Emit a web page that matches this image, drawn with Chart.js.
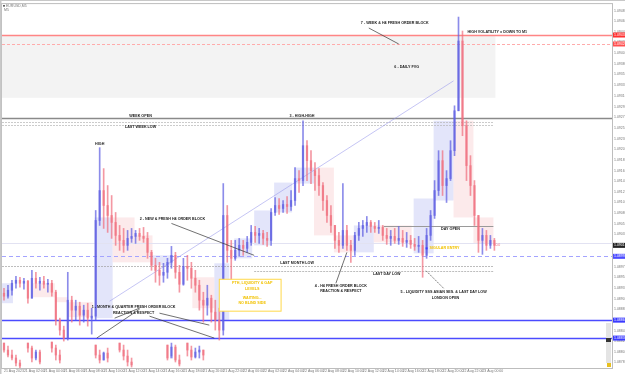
<!DOCTYPE html>
<html>
<head>
<meta charset="utf-8">
<script src="https://cdn.jsdelivr.net/npm/chart.js@4.4.0/dist/chart.umd.min.js"></script>
<style>
  html, body { margin: 0; padding: 0; background: #fff; }
</style>
</head>
<body>
<canvas id="chart" width="625" height="374"></canvas>
<script>
// --- data (EURUSD, M5) ---
const symbolName = 'EURUSD,M5';
const timeframe = 'M5';

const timeLabels = [
  '21 Aug 2023', '21 Aug 02:00', '21 Aug 04:00', '21 Aug 06:00', '21 Aug 08:00',
  '21 Aug 10:00', '21 Aug 12:00', '21 Aug 14:00', '21 Aug 16:00', '21 Aug 18:00',
  '21 Aug 20:00', '21 Aug 22:00', '22 Aug 00:00', '22 Aug 02:00', '22 Aug 04:00',
  '22 Aug 06:00', '22 Aug 08:00', '22 Aug 10:00', '22 Aug 12:00', '22 Aug 14:00',
  '22 Aug 16:00', '22 Aug 18:00', '22 Aug 20:00', '22 Aug 22:00', '23 Aug 00:00'
];

const priceTicks = [
  1.09487, 1.09466, 1.09444, 1.09423, 1.09401, 1.09380, 1.09359, 1.09337, 1.09316, 1.09294,
  1.09273, 1.09252, 1.09230, 1.09209, 1.09187, 1.09166, 1.09145, 1.09123, 1.09102, 1.09080,
  1.09059, 1.09038, 1.09016, 1.08995, 1.08973, 1.08952, 1.08931, 1.08909, 1.08888, 1.08866,
  1.08845, 1.08824, 1.08802, 1.08781
];

const firstOpen = 1.08920;
const highs = [
  1.08930, 1.08936, 1.08946, 1.08954, 1.08952, 1.08950, 1.08946, 1.08966, 1.08962, 1.08952,
  1.08954, 1.08948, 1.08946, 1.08926, 1.08870, 1.08854, 1.08962, 1.08914, 1.08906, 1.08902,
  1.08896, 1.08900, 1.08890, 1.09086, 1.09212, 1.09170, 1.09136, 1.09116, 1.09082, 1.09056,
  1.09050, 1.09046, 1.09050, 1.09046, 1.09050, 1.09052, 1.09042, 1.09006, 1.08990, 1.08982,
  1.08980, 1.08990, 1.09014, 1.09002, 1.08976, 1.08990, 1.08996, 1.08982, 1.08966, 1.08946,
  1.08922, 1.08936, 1.08916, 1.08906, 1.08890, 1.09140, 1.09096, 1.09026, 1.09026, 1.09030,
  1.09026, 1.09034, 1.09056, 1.09054, 1.09050, 1.09046, 1.09042, 1.09090, 1.09112, 1.09110,
  1.09106, 1.09114, 1.09126, 1.09172, 1.09166, 1.09266, 1.09226, 1.09206, 1.09182, 1.09170,
  1.09142, 1.09116, 1.09096, 1.09056, 1.09042, 1.09140, 1.09056, 1.09026, 1.09042, 1.09062,
  1.09066, 1.09074, 1.09066, 1.09062, 1.09066, 1.09056, 1.09050, 1.09046, 1.09050, 1.09054,
  1.09046, 1.09042, 1.09036, 1.09030, 1.09034, 1.09026, 1.09050, 1.09086, 1.09146, 1.09206,
  1.09206, 1.09166, 1.09226, 1.09296, 1.09474, 1.09446, 1.09266, 1.09196, 1.09146, 1.09076,
  1.09050, 1.09046, 1.09036, 1.09030
];
const lows = [
  1.08906, 1.08910, 1.08916, 1.08930, 1.08932, 1.08928, 1.08900, 1.08910, 1.08930, 1.08926,
  1.08930, 1.08922, 1.08914, 1.08856, 1.08836, 1.08824, 1.08826, 1.08862, 1.08866, 1.08856,
  1.08862, 1.08854, 1.08838, 1.08866, 1.09056, 1.09050, 1.09042, 1.09030, 1.09016, 1.09006,
  1.09002, 1.09006, 1.09022, 1.09020, 1.09026, 1.09022, 1.08990, 1.08966, 1.08942, 1.08936,
  1.08942, 1.08950, 1.08970, 1.08950, 1.08922, 1.08936, 1.08946, 1.08930, 1.08922, 1.08886,
  1.08862, 1.08876, 1.08862, 1.08846, 1.08826, 1.08836, 1.08982, 1.08946, 1.08986, 1.08994,
  1.08996, 1.09002, 1.09016, 1.09022, 1.09020, 1.09018, 1.09014, 1.09016, 1.09076, 1.09078,
  1.09082, 1.09080, 1.09086, 1.09096, 1.09122, 1.09136, 1.09146, 1.09140, 1.09126, 1.09116,
  1.09086, 1.09062, 1.09042, 1.09010, 1.09002, 1.09010, 1.09006, 1.08982, 1.08996, 1.09026,
  1.09034, 1.09042, 1.09042, 1.09042, 1.09040, 1.09026, 1.09018, 1.09016, 1.09020, 1.09018,
  1.09014, 1.09012, 1.09010, 1.09006, 1.09002, 1.08952, 1.08990, 1.09026, 1.09070, 1.09116,
  1.09116, 1.09102, 1.09146, 1.09196, 1.09286, 1.09236, 1.09146, 1.09116, 1.09056, 1.09002,
  1.08998, 1.09006, 1.09010, 1.09006
];
const closes = [
  1.08914, 1.08926, 1.08940, 1.08946, 1.08940, 1.08944, 1.08910, 1.08950, 1.08940, 1.08944,
  1.08938, 1.08940, 1.08922, 1.08866, 1.08846, 1.08830, 1.08906, 1.08886, 1.08894, 1.08876,
  1.08886, 1.08870, 1.08874, 1.09066, 1.09126, 1.09096, 1.09076, 1.09062, 1.09036, 1.09026,
  1.09016, 1.09030, 1.09034, 1.09040, 1.09034, 1.09030, 1.09002, 1.08976, 1.08966, 1.08956,
  1.08962, 1.08982, 1.08996, 1.08962, 1.08938, 1.08974, 1.08970, 1.08950, 1.08936, 1.08906,
  1.08896, 1.08910, 1.08882, 1.08866, 1.08846, 1.09076, 1.09006, 1.08990, 1.09006, 1.09016,
  1.09010, 1.09022, 1.09042, 1.09036, 1.09040, 1.09030, 1.09026, 1.09082, 1.09096, 1.09090,
  1.09098, 1.09094, 1.09106, 1.09150, 1.09146, 1.09216, 1.09186, 1.09166, 1.09156, 1.09136,
  1.09106, 1.09076, 1.09056, 1.09026, 1.09016, 1.09046, 1.09016, 1.09006, 1.09036, 1.09050,
  1.09056, 1.09062, 1.09054, 1.09050, 1.09052, 1.09036, 1.09030, 1.09034, 1.09026, 1.09030,
  1.09022, 1.09026, 1.09018, 1.09014, 1.09016, 1.08996, 1.09036, 1.09076, 1.09126, 1.09186,
  1.09136, 1.09150, 1.09206, 1.09286, 1.09426, 1.09256, 1.09176, 1.09136, 1.09076, 1.09026,
  1.09036, 1.09016, 1.09026, 1.09016
];

// small candle fragments in the strip under the lowest blue line
const subIndex = [0, 1, 2, 3, 4, 6, 7, 8, 9, 12, 13, 14, 23, 24, 25, 26, 29, 30, 31, 32, 41, 42, 43, 44, 46, 47, 48, 49, 50];
const subHighs = [
  1.08820, 1.08814, 1.08806, 1.08796, 1.08786, 1.08820, 1.08814, 1.08806, 1.08806, 1.08822,
  1.08816, 1.08806, 1.08816, 1.08806, 1.08802, 1.08810, 1.08820, 1.08816, 1.08806, 1.08790,
  1.08816, 1.08820, 1.08816, 1.08796, 1.08820, 1.08814, 1.08810, 1.08814, 1.08806
];
const subLows = [
  1.08802, 1.08792, 1.08786, 1.08774, 1.08770, 1.08802, 1.08782, 1.08786, 1.08778, 1.08802,
  1.08786, 1.08780, 1.08790, 1.08780, 1.08786, 1.08782, 1.08802, 1.08786, 1.08774, 1.08772,
  1.08786, 1.08794, 1.08782, 1.08774, 1.08794, 1.08786, 1.08790, 1.08790, 1.08786
];
const subCloses = [
  1.08806, 1.08796, 1.08790, 1.08780, 1.08774, 1.08810, 1.08790, 1.08802, 1.08782, 1.08810,
  1.08796, 1.08786, 1.08796, 1.08786, 1.08800, 1.08790, 1.08806, 1.08794, 1.08782, 1.08776,
  1.08790, 1.08812, 1.08786, 1.08778, 1.08806, 1.08792, 1.08802, 1.08806, 1.08796
];

// --- drawn objects (index range, price range) ---
const fvgZone = [-1, 123.25, 1.09436, 1.09312];
const demandZones = [
  [-1, 2.25, 1.08940, 1.08900], [22.75, 27.25, 1.09072, 1.08870], [37.25, 42.25, 1.08996, 1.08976],
  [52.75, 56.5, 1.08980, 1.08866], [57.75, 62.25, 1.09030, 1.08990], [62.75, 67, 1.09086, 1.09016],
  [67.75, 72.25, 1.09142, 1.09082], [72.75, 77.75, 1.09172, 1.09140], [87.75, 92.75, 1.09056, 1.09002],
  [102.75, 107.75, 1.09110, 1.09000], [107.75, 112.75, 1.09266, 1.09106]
];
const supplyZones = [
  [7.25, 12.75, 1.08940, 1.08912], [12.75, 16, 1.08912, 1.08902], [16, 22.25, 1.08902, 1.08872],
  [27.25, 32.75, 1.09072, 1.08982], [32.75, 37.25, 1.09036, 1.08982], [47.25, 52.75, 1.08952, 1.08890],
  [77.75, 82.75, 1.09172, 1.09036], [82.75, 87.75, 1.09036, 1.09002], [92.75, 102.25, 1.09056, 1.09022],
  [112.75, 117.75, 1.09266, 1.09072], [117.75, 122.75, 1.09072, 1.09020]
];

const END = 152.5;
const levels = [
  { p: 1.09438, from: -0.5, to: END, color: '#ff8585', width: 1.5, dash: [] },
  { p: 1.09420, from: -0.5, to: END, color: '#ffabab', width: 1, dash: [3, 2] },
  { p: 1.09272, from: -0.5, to: END, color: '#8a8a8a', width: 1.3, dash: [] },
  { p: 1.09264, from: -0.5, to: 122.75, color: '#b4b4b4', width: 0.7, dash: [2, 1] },
  { p: 1.09258, from: -0.5, to: 122.75, color: '#b4b4b4', width: 0.7, dash: [2, 1] },
  { p: 1.09020, from: -0.5, to: END, color: '#e2e2f2', width: 1, dash: [] },
  { p: 1.08994, from: -0.5, to: END, color: '#a4a4ff', width: 1, dash: [4, 3] },
  { p: 1.08974, from: -0.5, to: 122.75, color: '#a0a0a0', width: 0.7, dash: [2, 1] },
  { p: 1.08964, from: 62.75, to: 122.75, color: '#a0a0a0', width: 0.7, dash: [2, 1] },
  { p: 1.09054, from: 95.25, to: 122.75, color: '#9a9a9a', width: 1, dash: [] },
  { p: 1.08866, from: -0.5, to: END, color: '#4b4bff', width: 1.5, dash: [] },
  { p: 1.08830, from: -0.5, to: END, color: '#4b4bff', width: 1.5, dash: [] }
];
const trendLine = [26.5, 1.08904, 112.75, 1.09346];
const leaders = [
  [42, 1.09060, 62.75, 1.08996, []],
  [34, 1.08888, 23.25, 1.08830, []],
  [34, 1.08890, 27.75, 1.08870, []],
  [39, 1.08880, 51.5, 1.08856, []],
  [36.5, 1.08874, 52.75, 1.08830, []],
  [83.25, 1.08940, 86, 1.09002, []],
  [110.25, 1.08930, 105.75, 1.08966, [1.5, 1]],
  [91.5, 1.09452, 99, 1.09420, []]
];
const notes = [
  ['HIGH', 24, 1.09220], ['WEEK OPEN', 34.25, 1.09276], ['LAST WEEK LOW', 34.25, 1.09254],
  ['3 - HIGH-HIGH', 74.75, 1.09276], ['2 - NEW & FRESH H4 ORDER BLOCK', 42.25, 1.09068],
  ['1 - MONTH & QUARTER FRESH ORDER BLOCK', 32.5, 1.08892], ['REACTION & RESPECT', 32.5, 1.08880],
  ['4 - H4 FRESH ORDER BLOCK', 84.5, 1.08934], ['REACTION & RESPECT', 84.5, 1.08924],
  ['LAST MONTH LOW', 73.5, 1.08980], ['LAST DAY LOW', 96, 1.08958],
  ['5 - LIQUIDITY SSS ASIAN SES. & LAST DAY LOW', 110.25, 1.08922], ['LONDON OPEN', 110.75, 1.08910],
  ['DAY OPEN', 112, 1.09048], ['6 - DAILY FVG', 101, 1.09374],
  ['7 - WEEK & H4 FRESH ORDER BLOCK', 98, 1.09462], ['HIGH VOLATILITY = DOWN TO M1', 123.75, 1.09444]
];
const yellowNotes = [
  ['PTH, LIQUIDITY & GAP', 62.25, 1.08940], ['LEVELS', 62.25, 1.08928],
  ['WAITING...', 62.25, 1.08910], ['NO BLIND SIDE', 62.25, 1.08900],
  ['SIGULAR ENTRY', 110.5, 1.09010]
];
const noteBox = [54, 69.5, 1.08948, 1.08884];
const axisTags = [
  [1.09438, '#ff3030'], [1.09420, '#ff5050'], [1.09016, '#222222'],
  [1.08994, '#4b4bff'], [1.08866, '#3a3aff'], [1.08830, '#3a3aff']
];

const BULL = 'rgba(96, 96, 226, 0.72)';
const BEAR = 'rgba(240, 112, 128, 0.72)';

function candleSets(idx, hi, lo, cl, first) {
  const wicks = [], bodies = [], colors = [];
  idx.forEach((x, k) => {
    let o;
    if (k === 0) o = first !== undefined ? first : hi[k];
    else o = (idx[k - 1] === x - 1) ? cl[k - 1] : hi[k];
    wicks.push({ x: x, y: [lo[k], hi[k]] });
    bodies.push({ x: x, y: [o, cl[k]] });
    colors.push(cl[k] >= o ? BULL : BEAR);
  });
  return { wicks, bodies, colors };
}

const main = candleSets(closes.map((_, i) => i), highs, lows, closes, firstOpen);
const sub = candleSets(subIndex, subHighs, subLows, subCloses);

const NOTE_FONT = 'bold 3.7px "Liberation Sans", Arial, sans-serif';
const AXIS_FONT = { size: 3.5, family: '"Liberation Sans", Arial, sans-serif' };

const overlay = {
  id: 'overlay',
  beforeDatasetsDraw(chart) {
    const { ctx, chartArea: a, scales: { x, y } } = chart;
    ctx.save();
    ctx.beginPath();
    ctx.rect(a.left, a.top, a.right - a.left, a.bottom - a.top);
    ctx.clip();
    const box = (z, fill) => {
      const x0 = x.getPixelForValue(z[0]), x1 = x.getPixelForValue(z[1]);
      const y0 = y.getPixelForValue(z[2]), y1 = y.getPixelForValue(z[3]);
      ctx.fillStyle = fill;
      ctx.fillRect(x0, y0, x1 - x0, y1 - y0);
    };
    box(fvgZone, '#f3f3f3');
    demandZones.forEach(z => box(z, 'rgba(208, 212, 246, 0.6)'));
    supplyZones.forEach(z => box(z, 'rgba(250, 216, 218, 0.55)'));

    levels.forEach(l => {
      const py = Math.round(y.getPixelForValue(l.p)) + 0.5;
      ctx.strokeStyle = l.color;
      ctx.lineWidth = l.width;
      ctx.setLineDash(l.dash);
      ctx.beginPath();
      ctx.moveTo(x.getPixelForValue(l.from), py);
      ctx.lineTo(x.getPixelForValue(l.to), py);
      ctx.stroke();
    });
    ctx.setLineDash([]);
    ctx.strokeStyle = 'rgba(150, 150, 235, 0.7)';
    ctx.lineWidth = 0.8;
    ctx.beginPath();
    ctx.moveTo(x.getPixelForValue(trendLine[0]), y.getPixelForValue(trendLine[1]));
    ctx.lineTo(x.getPixelForValue(trendLine[2]), y.getPixelForValue(trendLine[3]));
    ctx.stroke();
    ctx.restore();
  },
  afterDatasetsDraw(chart) {
    const { ctx, scales: { x, y } } = chart;
    ctx.save();
    ctx.strokeStyle = '#333';
    ctx.lineWidth = 0.7;
    leaders.forEach(l => {
      ctx.setLineDash(l[4]);
      ctx.beginPath();
      ctx.moveTo(x.getPixelForValue(l[0]), y.getPixelForValue(l[1]));
      ctx.lineTo(x.getPixelForValue(l[2]), y.getPixelForValue(l[3]));
      ctx.stroke();
    });
    ctx.setLineDash([]);

    // yellow note box
    const bx0 = x.getPixelForValue(noteBox[0]), bx1 = x.getPixelForValue(noteBox[1]);
    const by0 = y.getPixelForValue(noteBox[2]), by1 = y.getPixelForValue(noteBox[3]);
    ctx.fillStyle = '#fff';
    ctx.fillRect(bx0, by0, bx1 - bx0, by1 - by0);
    ctx.strokeStyle = '#ffd84a';
    ctx.lineWidth = 1;
    ctx.strokeRect(bx0, by0, bx1 - bx0, by1 - by0);

    ctx.font = NOTE_FONT;
    ctx.textAlign = 'center';
    ctx.textBaseline = 'middle';
    ctx.fillStyle = '#1a1a1a';
    notes.forEach(n => ctx.fillText(n[0], x.getPixelForValue(n[1]), y.getPixelForValue(n[2])));
    ctx.fillStyle = '#f2c200';
    yellowNotes.forEach(n => ctx.fillText(n[0], x.getPixelForValue(n[1]), y.getPixelForValue(n[2])));

    // entry marker and spread text
    ctx.fillStyle = '#3b3bff';
    ctx.fillRect(x.getPixelForValue(106) - 1, y.getPixelForValue(1.09010) - 1, 2, 2);
    ctx.fillStyle = '#f07080';
    ctx.font = '3.5px "Liberation Sans", Arial, sans-serif';
    ctx.textAlign = 'left';
    ctx.fillText('0.0', x.getPixelForValue(123.25), y.getPixelForValue(1.09016));
    ctx.restore();
  },
  afterDraw(chart) {
    const { ctx, chartArea: a, scales: { y } } = chart;
    ctx.save();
    ctx.strokeStyle = '#bdbdbd';
    ctx.lineWidth = 1;
    ctx.strokeRect(a.left - 0.5, a.top - 0.5, a.right - a.left + 1, a.bottom - a.top + 1);
    ctx.fillStyle = '#c8c8c8';
    ctx.fillRect(0, 0, 625, 1);
    ctx.fillRect(0, 0, 1.5, 374);
    ctx.font = '3.5px "Liberation Sans", Arial, sans-serif';
    ctx.textBaseline = 'middle';
    ctx.textAlign = 'left';
    axisTags.forEach(t => {
      const py = y.getPixelForValue(t[0]);
      ctx.fillStyle = t[1];
      ctx.fillRect(a.right + 1, py - 2.5, 12, 5);
      ctx.fillStyle = '#fff';
      ctx.fillText(t[0].toFixed(5), a.right + 2, py);
    });
    // symbol caption
    ctx.fillStyle = '#555';
    ctx.fillRect(a.left + 1, a.top + 1, 2, 1.5);
    ctx.fillStyle = '#777';
    ctx.fillText(symbolName, a.left + 4, a.top + 2);
    ctx.fillText(timeframe, a.left + 2, a.top + 6);
    // small toolbar at lower right
    ctx.fillStyle = '#e4e4e4';
    ctx.fillRect(a.right - 6, a.bottom - 45, 5, 40);
    ctx.fillStyle = '#333';
    ctx.fillRect(a.right - 6, a.bottom - 30, 5, 4);
    ctx.fillStyle = '#e8c020';
    ctx.fillRect(a.right - 5, a.bottom - 5, 4, 4);
    ctx.restore();
  }
};

new Chart(document.getElementById('chart'), {
  type: 'bar',
  data: {
    datasets: [
      { data: main.wicks, backgroundColor: main.colors, barThickness: 1, grouped: false, order: 2 },
      { data: main.bodies, backgroundColor: main.colors, barThickness: 1.6, grouped: false, order: 1 },
      { data: sub.wicks, backgroundColor: sub.colors, barThickness: 1, grouped: false, order: 4 },
      { data: sub.bodies, backgroundColor: sub.colors, barThickness: 1.6, grouped: false, order: 3 }
    ]
  },
  options: {
    responsive: false,
    devicePixelRatio: 1,
    animation: false,
    layout: { padding: { left: 2, top: 3, right: 0, bottom: 0 } },
    plugins: { legend: { display: false }, tooltip: { enabled: false } },
    scales: {
      x: {
        type: 'linear',
        offset: false,
        min: -0.5,
        max: END,
        grid: { display: false, drawTicks: false },
        border: { display: false },
        afterBuildTicks: s => { s.ticks = timeLabels.map((_, k) => ({ value: k * 5 })); },
        afterFit: s => { s.height = 6; },
        ticks: {
          autoSkip: false,
          maxRotation: 0,
          align: 'start',
          padding: 1,
          color: '#777',
          font: AXIS_FONT,
          callback: (v, i) => timeLabels[i]
        }
      },
      y: {
        position: 'right',
        min: 1.08770,
        max: 1.09500,
        grid: { display: false, drawTicks: false },
        border: { display: false },
        afterBuildTicks: s => { s.ticks = priceTicks.map(v => ({ value: v })); },
        afterFit: s => { s.width = 13; },
        ticks: {
          padding: 2,
          color: '#777',
          font: AXIS_FONT,
          callback: v => v.toFixed(5)
        }
      }
    }
  },
  plugins: [overlay]
});
</script>
</body>
</html>
